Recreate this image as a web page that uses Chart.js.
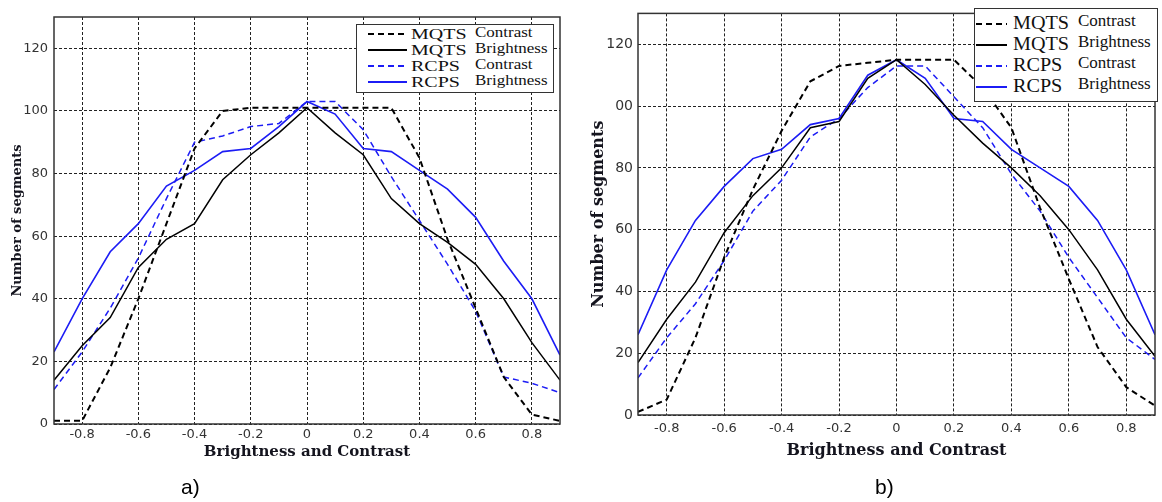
<!DOCTYPE html>
<html>
<head>
<meta charset="utf-8">
<script src="https://cdn.jsdelivr.net/npm/chart.js@4.4.1/dist/chart.umd.min.js"></script>
<style>
  html, body { margin: 0; padding: 0; background: #fff; }
  body { width: 1162px; height: 502px; position: relative; overflow: hidden; }
  .panel { position: absolute; top: 0; height: 502px; }
  #panelA { left: 0; width: 575px; }
  #panelB { left: 580px; width: 582px; }
  .legend { position: absolute; background: #fff; border: 1px solid #333; box-sizing: border-box; font-family: 'Liberation Serif', serif; color: #111; }
  .legend .row { display: flex; align-items: center; white-space: nowrap; }
  .legend svg { flex: none; }
  .legend .method, .legend .variable { display: inline-block; transform-origin: left center; }
  .legend .variable { position: relative; }
  #legendA { left: 356px; top: 24px; width: 198px; height: 69px; padding-top: 1px; }
  #legendA .row { height: 16px; }
  #legendA .method { font-size: 14.5px; transform: scaleX(1.38); }
  #legendA .variable { font-size: 14.5px; transform: scaleX(1.17); top: -2px; }
  #legendB { left: 394px; top: 8px; width: 184px; height: 94px; padding-top: 4px; }
  #legendB .row { height: 21px; }
  #legendB .method { font-size: 18px; transform: scaleX(1.12); }
  #legendB .variable { font-size: 17px; top: -3px; }
  .tag { position: absolute; top: 475px; font-family: 'Liberation Sans', Arial, sans-serif; font-size: 21px; color: #000; }
</style>
</head>
<body>
<div class="panel" id="panelA">
  <canvas id="chartA"></canvas>
  <div class="legend" id="legendA"></div>
</div>
<div class="panel" id="panelB">
  <canvas id="chartB"></canvas>
  <div class="legend" id="legendB"></div>
</div>
<div class="tag" style="left:181px">a)</div>
<div class="tag" style="left:875px">b)</div>

<script>
// x positions shared by every curve
const brightness = [-0.9, -0.8, -0.7, -0.6, -0.5, -0.4, -0.3, -0.2, -0.1, 0, 0.1, 0.2, 0.3, 0.4, 0.5, 0.6, 0.7, 0.8, 0.9];

const xTicks = [-0.8, -0.6, -0.4, -0.2, 0, 0.2, 0.4, 0.6, 0.8];
const xTickLabels = ['-0.8', '-0.6', '-0.4', '-0.2', '0', '0.2', '0.4', '0.6', '0.8'];
const yTicks = [0, 20, 40, 60, 80, 100, 120];
const yTickLabelsA = ['0', '20', '40', '60', '80', '100', '120'];
const yTickLabelsB = ['0', '20', '40', '60', '80', '00', '120'];

// panel a)
const mqtsContrastA   = [1, 1, 18, 40, 64, 88, 100, 101, 101, 101, 101, 101, 101, 85, 59, 37, 15, 3, 1];
const mqtsBrightnessA = [14, 25, 34, 50, 59, 64, 78, 86, 93, 101, 93, 86, 72, 64, 58, 51, 40, 26, 14];
const rcpsContrastA   = [11, 23, 37, 53, 72, 90, 92, 95, 96, 103, 103, 94, 79, 65, 51, 36, 15, 13, 10];
const rcpsBrightnessA = [23, 40, 55, 64, 76, 81, 87, 88, 95, 103, 99, 88, 87, 81, 75, 66, 52, 40, 22];

// panel b)
const mqtsContrastB   = [1, 5, 25, 51, 73, 92, 108, 113, 114, 115, 115, 115, 106, 93, 67, 44, 22, 9, 3];
const mqtsBrightnessB = [17, 31, 43, 59, 71, 80, 93, 95, 109, 115, 107, 97, 88, 80, 71, 60, 47, 31, 19];
const rcpsContrastB   = [12, 25, 36, 50, 66, 76, 90, 96, 106, 113, 113, 103, 93, 78, 66, 51, 38, 25, 18];
const rcpsBrightnessB = [26, 47, 63, 74, 83, 86, 94, 96, 110, 115, 109, 96, 95, 86, 80, 74, 63, 47, 26];

const blue = '#1c1cf5';
const black = '#000000';
const gridColor = '#222222';
const tickColor = '#333333';
const titleColor = '#14141e';

const points = (vals) => brightness.map((x, i) => ({ x: x, y: vals[i] }));

// Box around the plotting area (MATLAB style axes)
const frame = {
    id: 'frame',
    afterDraw(chart) {
        const { ctx, chartArea } = chart;
        ctx.save();
        ctx.strokeStyle = '#333';
        ctx.lineWidth = 1.5;
        ctx.strokeRect(chartArea.left, chartArea.top, chartArea.width, chartArea.height);
        ctx.restore();
    }
};

// Legend built as html so the method name and the variable can use different type
const htmlLegend = {
    id: 'htmlLegend',
    afterUpdate(chart, args, opts) {
        const box = document.getElementById(opts.containerID);
        box.innerHTML = '';
        chart.data.datasets.forEach(ds => {
            const [method, variable] = ds.label.split(' ');
            const row = document.createElement('div');
            row.className = 'row';
            const dash = (ds.borderDash || []).join(',');
            row.innerHTML =
                `<svg width="${opts.sampleWidth}" height="8" style="margin-left:${opts.sampleLeft}px;margin-right:${opts.gap}px">` +
                `<line x1="0" y1="4" x2="${opts.sampleWidth}" y2="4" stroke="${ds.borderColor}" stroke-width="2"` +
                (dash ? ` stroke-dasharray="${dash}"` : '') + `/></svg>` +
                `<span style="display:inline-block;width:${opts.methodWidth}px"><span class="method">${method}</span></span>` +
                `<span class="variable">${variable}</span>`;
            box.appendChild(row);
        });
    }
};

function buildChart(canvasId, series, opt) {
    return new Chart(document.getElementById(canvasId), {
        type: 'line',
        data: {
            datasets: [
                { label: 'MQTS Contrast', data: points(series[0]), borderColor: black, borderWidth: 2, borderDash: [6, 4] },
                { label: 'MQTS Brightness', data: points(series[1]), borderColor: black, borderWidth: 1.5 },
                { label: 'RCPS Contrast', data: points(series[2]), borderColor: blue, borderWidth: 1.5, borderDash: [6, 4] },
                { label: 'RCPS Brightness', data: points(series[3]), borderColor: blue, borderWidth: 1.6 }
            ]
        },
        options: {
            responsive: true,
            maintainAspectRatio: false,
            animation: false,
            layout: { padding: opt.padding },
            elements: {
                point: { radius: 0, hoverRadius: 0 },
                line: { tension: 0, fill: false }
            },
            plugins: {
                legend: { display: false },
                tooltip: { enabled: false },
                htmlLegend: opt.legend
            },
            scales: {
                x: {
                    type: 'linear',
                    min: -0.9,
                    max: 0.9,
                    afterBuildTicks: (scale) => { scale.ticks = xTicks.map(v => ({ value: v })); },
                    afterFit: (scale) => { scale.height = opt.xHeight; },
                    grid: { color: gridColor, lineWidth: 1, drawTicks: false },
                    border: { display: false, dash: [3, 2] },
                    ticks: {
                        color: tickColor,
                        padding: opt.xTickPad,
                        maxRotation: 0,
                        font: { family: "'DejaVu Sans', sans-serif", size: 13 },
                        callback: (value, index) => xTickLabels[index]
                    },
                    title: {
                        display: true,
                        text: 'Brightness and Contrast',
                        color: titleColor,
                        padding: { top: 0, bottom: opt.xTitlePad },
                        font: { family: "'DejaVu Serif', serif", size: opt.xTitleSize, weight: 'bold' }
                    }
                },
                y: {
                    min: 0,
                    max: 130,
                    afterBuildTicks: (scale) => { scale.ticks = yTicks.map(v => ({ value: v })); },
                    afterFit: (scale) => { scale.width = opt.yWidth; },
                    grid: { color: gridColor, lineWidth: 1, drawTicks: false },
                    border: { display: false, dash: [3, 2] },
                    ticks: {
                        color: tickColor,
                        padding: opt.yTickPad,
                        font: { family: "'DejaVu Sans', sans-serif", size: opt.yTickSize },
                        callback: (value, index) => opt.yLabels[index]
                    },
                    title: {
                        display: true,
                        text: 'Number of segments',
                        color: titleColor,
                        padding: { top: opt.yTitlePad, bottom: 0 },
                        font: { family: "'DejaVu Serif', serif", size: opt.yTitleSize, weight: 'bold' }
                    }
                }
            }
        },
        plugins: [frame, htmlLegend]
    });
}

buildChart('chartA', [mqtsContrastA, mqtsBrightnessA, rcpsContrastA, rcpsBrightnessA], {
    padding: { top: 17, right: 15, bottom: 38, left: 0 },
    xHeight: 40, xTickPad: 3, xTitleSize: 15, xTitlePad: 3,
    yWidth: 54, yTickPad: 6, yTickSize: 13, yTitleSize: 13, yTitlePad: 10,
    yLabels: yTickLabelsA,
    legend: { containerID: 'legendA', sampleLeft: 11, sampleWidth: 39, gap: 4, methodWidth: 64 }
});

buildChart('chartB', [mqtsContrastB, mqtsBrightnessB, rcpsContrastB, rcpsBrightnessB], {
    padding: { top: 8, right: 7, bottom: 37, left: 0 },
    xHeight: 50, xTickPad: 6, xTitleSize: 16, xTitlePad: 5,
    yWidth: 58, yTickPad: 5, yTickSize: 14, yTitleSize: 16, yTitlePad: 9,
    yLabels: yTickLabelsB,
    legend: { containerID: 'legendB', sampleLeft: 1, sampleWidth: 31, gap: 6, methodWidth: 65 }
});
</script>
</body>
</html>
